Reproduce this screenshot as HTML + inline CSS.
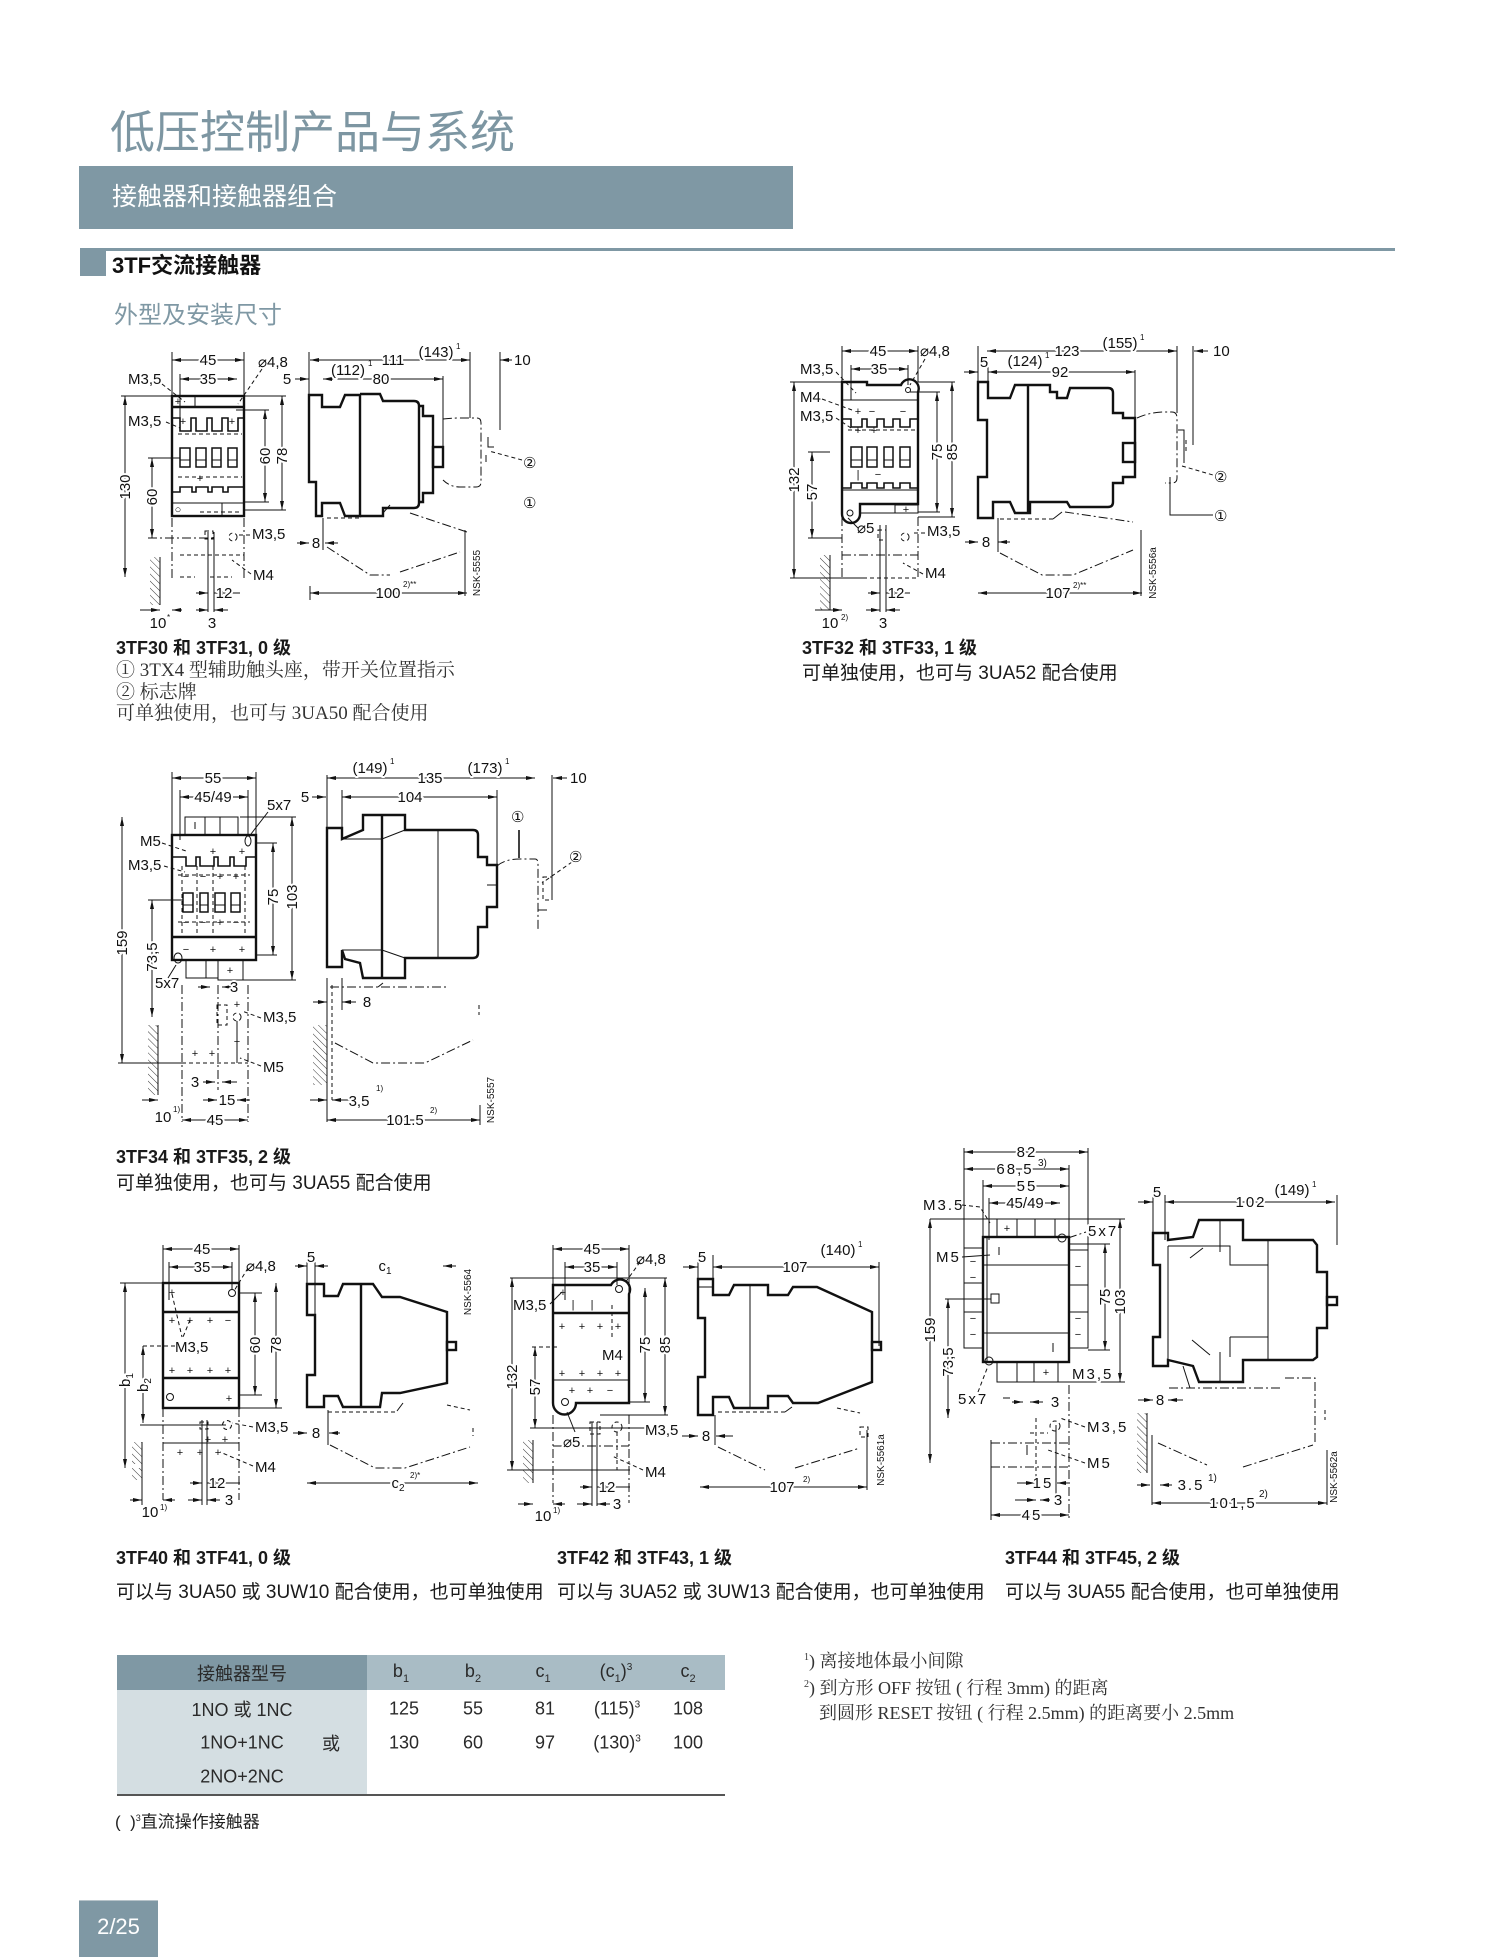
<!DOCTYPE html>
<html><head><meta charset="utf-8">
<style>
html,body{margin:0;padding:0;background:#fff;}
#pg{position:relative;width:1500px;height:1957px;overflow:hidden;background:#fff;font-family:"Liberation Sans","Noto Sans CJK SC",sans-serif;}
.a{position:absolute;white-space:nowrap;}
svg{position:absolute;left:0;top:0;}
.k{stroke:#111;fill:none;stroke-width:2.4;}
.t{stroke:#111;fill:none;stroke-width:1;}
.dd{stroke:#111;fill:none;stroke-width:1;stroke-dasharray:9 3 2 3;}
.ds{stroke:#111;fill:none;stroke-width:1;stroke-dasharray:4 3;}
.dm{stroke:#111;stroke-width:1;marker-start:url(#ar);marker-end:url(#ar);}
.de{stroke:#111;stroke-width:1;marker-end:url(#ar);}
.l{font-family:"Liberation Sans",sans-serif;font-size:15px;fill:#111;text-anchor:middle;paint-order:stroke;stroke:#fff;stroke-width:4px;stroke-linejoin:round;}
.ls{font-family:"Liberation Sans",sans-serif;font-size:15px;fill:#111;text-anchor:start;paint-order:stroke;stroke:#fff;stroke-width:4px;stroke-linejoin:round;}
.sp{font-family:"Liberation Sans",sans-serif;font-size:8px;fill:#111;}
.p{font-family:"Liberation Sans",sans-serif;font-size:11px;fill:#111;text-anchor:middle;}
.nsk{font-family:"Liberation Sans",sans-serif;font-size:10px;fill:#111;text-anchor:middle;}
.cb{font-family:"Liberation Sans","Noto Sans CJK SC",sans-serif;font-size:18px;font-weight:bold;fill:#1a1a1a;}
.cn{font-family:"Liberation Sans","Noto Sans CJK SC",sans-serif;font-size:19px;fill:#1a1a1a;}
.cl{font-family:"Liberation Serif","Noto Serif CJK SC",serif;font-size:19px;fill:#333;}
.w{letter-spacing:2px;}
.tb{position:absolute;font-family:"Liberation Sans","Noto Sans CJK SC",sans-serif;font-size:18px;color:#2a2a2a;white-space:nowrap;transform:translate(-50%,-50%);}
.fn{position:absolute;font-family:"Liberation Serif","Noto Serif CJK SC",serif;font-size:18px;color:#333;white-space:nowrap;}
</style></head><body>
<div id="pg">
<!-- header -->
<div class="a" style="left:110px;top:110px;font-size:45px;line-height:46px;color:#7d96a2;font-family:'Liberation Sans','Noto Sans CJK SC',sans-serif;">低压控制产品与系统</div>
<div class="a" style="left:79px;top:166px;width:714px;height:63px;background:#7f98a4;"></div>
<div class="a" style="left:112px;top:184px;font-size:25px;line-height:27px;color:#fff;font-family:'Liberation Sans','Noto Sans CJK SC',sans-serif;">接触器和接触器组合</div>
<div class="a" style="left:80px;top:248px;width:1315px;height:3px;background:#7f98a4;"></div>
<div class="a" style="left:80px;top:248px;width:26px;height:28px;background:#7f98a4;"></div>
<div class="a" style="left:112px;top:254px;font-size:22px;line-height:24px;font-weight:bold;color:#111;font-family:'Liberation Sans','Noto Sans CJK SC',sans-serif;">3TF交流接触器</div>
<div class="a" style="left:114px;top:303px;font-size:24px;line-height:26px;color:#7f98a4;font-family:'Liberation Sans','Noto Sans CJK SC',sans-serif;">外型及安装尺寸</div>

<!-- table -->
<div class="a" style="left:117px;top:1655px;width:250px;height:35px;background:#7f98a4;"></div>
<div class="a" style="left:367px;top:1655px;width:358px;height:35px;background:#a9bcc5;"></div>
<div class="a" style="left:117px;top:1690px;width:250px;height:104px;background:#d4dee2;"></div>
<div class="a" style="left:117px;top:1794px;width:608px;height:2px;background:#555;"></div>
<div class="tb" style="left:242px;top:1673px;">接触器型号</div>
<div class="tb" style="left:401px;top:1673px;">b<sub style="font-size:11px">1</sub></div>
<div class="tb" style="left:473px;top:1673px;">b<sub style="font-size:11px">2</sub></div>
<div class="tb" style="left:543px;top:1673px;">c<sub style="font-size:11px">1</sub></div>
<div class="tb" style="left:616px;top:1673px;">(c<sub style="font-size:11px">1</sub>)<sup style="font-size:10px">3</sup></div>
<div class="tb" style="left:688px;top:1673px;">c<sub style="font-size:11px">2</sub></div>
<div class="tb" style="left:242px;top:1709px;">1NO 或 1NC</div>
<div class="tb" style="left:404px;top:1709px;">125</div>
<div class="tb" style="left:473px;top:1709px;">55</div>
<div class="tb" style="left:545px;top:1709px;">81</div>
<div class="tb" style="left:617px;top:1709px;">(115)<sup style="font-size:10px">3</sup></div>
<div class="tb" style="left:688px;top:1709px;">108</div>
<div class="tb" style="left:242px;top:1743px;">1NO+1NC</div>
<div class="tb" style="left:331px;top:1743px;">或</div>
<div class="tb" style="left:404px;top:1743px;">130</div>
<div class="tb" style="left:473px;top:1743px;">60</div>
<div class="tb" style="left:545px;top:1743px;">97</div>
<div class="tb" style="left:617px;top:1743px;">(130)<sup style="font-size:10px">3</sup></div>
<div class="tb" style="left:688px;top:1743px;">100</div>
<div class="tb" style="left:242px;top:1777px;">2NO+2NC</div>
<div class="a" style="left:115px;top:1807px;font-size:17px;line-height:22px;color:#222;font-family:'Liberation Sans','Noto Sans CJK SC',sans-serif;">(&nbsp;&nbsp;)<sup style="font-size:9px">3</sup>直流操作接触器</div>
<div class="fn" style="left:804px;top:1647px;"><sup style="font-size:10px">1</sup>) 离接地体最小间隙</div>
<div class="fn" style="left:804px;top:1674px;"><sup style="font-size:10px">2</sup>) 到方形 OFF 按钮 ( 行程 3mm) 的距离</div>
<div class="fn" style="left:819px;top:1699px;">到圆形 RESET 按钮 ( 行程 2.5mm) 的距离要小 2.5mm</div>

<!-- page number -->
<div class="a" style="left:79px;top:1900px;width:79px;height:57px;background:#7f98a4;border-top:1px solid #b8c4ca;"></div>
<div class="a" style="left:79px;top:1914px;width:79px;text-align:center;font-size:22px;line-height:26px;color:#fff;">2/25</div>

<svg width="1500" height="1957" viewBox="0 0 1500 1957" xmlns="http://www.w3.org/2000/svg">
<defs>
<marker id="ar" viewBox="0 0 9 4" refX="9" refY="2" markerWidth="9" markerHeight="4" markerUnits="userSpaceOnUse" orient="auto-start-reverse"><path d="M0,0L9,2L0,4z" fill="#111"/></marker>
<pattern id="h" width="5" height="5" patternUnits="userSpaceOnUse" patternTransform="rotate(-45)"><line x1="0" y1="0" x2="0" y2="5" stroke="#222" stroke-width="0.9"/></pattern>
</defs>

<!-- ================= D1 3TF30 ================= -->
<g>
<rect class="k" x="172" y="396" width="72" height="120"/>
<path class="k" d="M172,407H244"/>
<path class="t" d="M195,396V407"/>
<path class="k" style="stroke-width:1.6" d="M172,418H180V431H191V418H196V431H207V418H212V431H222V418H228V431H238V418H244"/>
<path class="ds" d="M178,434H242M178,477H242M200,512H242"/>
<g class="k" style="stroke-width:1.5"><rect x="180" y="448" width="10" height="19"/><rect x="196" y="448" width="10" height="19"/><rect x="212" y="448" width="9" height="19"/><rect x="228" y="448" width="9" height="19"/></g>
<path class="t" d="M180,460h10M196,460h10M212,460h9M228,460h9"/>
<path class="k" style="stroke-width:1.6" d="M172,492H180V487H192V492H196V487H208V492H212V487H223V492H228V487H244"/>
<path class="t" d="M172,503H244M222,503V516"/>
<text class="p" x="178" y="405">+</text><text class="p" x="183" y="425">+</text><text class="p" x="232" y="425">+</text><text class="p" x="200" y="482">+</text><text class="p" x="178" y="513">○</text>
<path class="t" d="M172,352V396M244,352V396M180,374V418"/>
<line class="dm" x1="172" y1="360" x2="244" y2="360"/><text class="l" x="208" y="365">45</text>
<line class="dm" x1="180" y1="379" x2="237" y2="379"/><text class="l" x="208" y="384">35</text>
<text class="ls" x="128" y="384">M3,5</text><path class="ds" d="M162,384L185,402"/>
<text class="ls" x="258" y="367">⌀4,8</text><path class="ds" d="M262,369L238,404"/>
<text class="ls" x="128" y="426">M3,5</text><path class="ds" d="M166,422L180,428"/>
<path class="t" d="M121,396H172"/>
<line class="dm" x1="125" y1="396" x2="125" y2="577"/><text class="l" transform="translate(125 487) rotate(-90)" y="5">130</text>
<path class="t" d="M148,458H180"/><path class="dd" d="M148,538H215"/>
<line class="dm" x1="152" y1="458" x2="152" y2="538"/><text class="l" transform="translate(152 497) rotate(-90)" y="5">60</text>
<path class="t" d="M244,396H286M236,410H269M244,502H269M244,510H286"/>
<line class="dm" x1="265" y1="410" x2="265" y2="502"/><text class="l" transform="translate(265 456) rotate(-90)" y="5">60</text>
<line class="dm" x1="282" y1="396" x2="282" y2="510"/><text class="l" transform="translate(282 456) rotate(-90)" y="5">78</text>
<path class="dd" d="M172,518V578M244,518V578"/>
<path class="ds" d="M180,555H244M180,577H195M210,577H232"/>
<path class="t" d="M208,532V612M214,532V612"/>
<rect class="ds" x="205" y="531" width="8" height="8"/><circle class="ds" cx="233" cy="537" r="4"/>
<text class="ls" x="252" y="539">M3,5</text><path class="ds" d="M250,535H239"/>
<text class="ls" x="253" y="580">M4</text><path class="ds" d="M251,574L232,560"/>
<rect x="150" y="557" width="10" height="48" fill="url(#h)"/><path class="t" d="M160,557V605"/>
<line class="de" x1="196" y1="593" x2="208" y2="593"/><line class="de" x1="240" y1="593" x2="214" y2="593"/><text class="l" x="224" y="598">12</text>
<line class="de" x1="140" y1="610" x2="160" y2="610"/><line class="de" x1="182" y1="610" x2="172" y2="610"/>
<text class="l" x="158" y="628">10</text><text class="sp" x="167" y="620">*</text>
<line class="de" x1="196" y1="610" x2="208" y2="610"/><line class="de" x1="228" y1="610" x2="214" y2="610"/>
<text class="l" x="212" y="628">3</text>
<!-- side -->
<path class="k" d="M309,395H322V407H340L345,395H360V516H345L340,503H322V516H316V482H309Z"/>
<path class="k" d="M360,394H380L383,401H414Q419,401 419,406V503Q419,508 414,508H383V516H360"/>
<path class="k" d="M419,406H423V416H433V493H423V502H419"/>
<rect class="k" x="433" y="447" width="10" height="20"/>
<path class="t" d="M443,376V447M309,352V395"/>
<path class="dd" d="M443,419Q450,418 460,418H477Q481,418 481,423V482Q481,487 476,487H460Q450,487 443,480"/>
<path class="t" d="M488,437V447H494M486,455V462"/>
<path class="ds" d="M522,460L489,451"/>
<text class="ls" x="523" y="468" style="font-size:15px">②</text>
<text class="ls" x="523" y="508" style="font-size:15px">①</text>
<line class="de" x1="295" y1="379" x2="309" y2="379"/><text class="l" x="287" y="384">5</text>
<line class="dm" x1="323" y1="379" x2="443" y2="379"/>
<text class="l" x="348" y="375">(112)</text><text class="sp" x="368" y="366">1</text><text class="l" x="381" y="384">80</text>
<line class="dm" x1="310" y1="360" x2="470" y2="360"/>
<text class="l" x="393" y="365">111</text><text class="l" x="436" y="357">(143)</text><text class="sp" x="456" y="349">1</text>
<line class="de" x1="512" y1="360" x2="500" y2="360"/><text class="ls" x="514" y="365">10</text>
<path class="t" d="M470,352V418M500,352V430"/>
<path class="t" d="M323,518V550"/>
<line class="de" x1="297" y1="543" x2="309" y2="543"/><line class="de" x1="338" y1="543" x2="325" y2="543"/><text class="l" x="316" y="548">8</text>
<path class="ds" d="M327,518H360"/><path class="t" d="M383,513L390,505"/>
<path class="dd" d="M410,513L467,532M327,547L370,575H390M400,572L460,552"/>
<path class="t" d="M465,530V596M310,586V600"/>
<line class="dm" x1="310" y1="593" x2="467" y2="593"/><text class="l" x="388" y="598">100</text><text class="sp" x="403" y="587">2)**</text>
<text class="nsk" transform="translate(476 573) rotate(-90)" y="4">NSK-5555</text>
<text class="cb" x="116" y="654">3TF30 和 3TF31, 0 级</text>
<text class="cl" x="116" y="676">① 3TX4 型辅助触头座，带开关位置指示</text>
<text class="cl" x="116" y="698">② 标志牌</text>
<text class="cl" x="116" y="719">可单独使用，也可与 3UA50 配合使用</text>
</g>

<!-- ================= D2 3TF32 ================= -->
<g>
<path class="k" d="M842,382H867V385H901A9,9 0 0 1 918,392V504H860V514A9,9 0 0 1 842,514Z"/>
<circle class="t" cx="908" cy="390" r="2.5"/><circle class="t" cx="850" cy="513" r="3"/>
<rect class="t" x="895" y="505" width="23" height="8"/><path class="t" d="M860,513H895"/>
<text class="p" x="906" y="513">+</text>
<path class="t" d="M842,400H918M842,490H918"/>
<path class="k" style="stroke-width:1.6" d="M842,419H851V427H862V419H867V427H877V419H884V427H893V419H900V427H910V419H918"/>
<path class="ds" d="M848,430H915"/>
<g class="k" style="stroke-width:1.5"><rect x="851" y="447" width="11" height="20"/><rect x="867" y="447" width="10" height="20"/><rect x="884" y="447" width="9" height="20"/><rect x="900" y="447" width="10" height="20"/></g>
<path class="t" d="M851,460h11M867,460h10M884,460h9M900,460h10"/>
<path class="k" style="stroke-width:1.6" d="M842,488H851V483H862V488H867V483H877V488H884V483H893V488H900V483H910V488H918"/>
<text class="p" x="858" y="415">+</text><text class="p" x="872" y="415">−</text><text class="p" x="903" y="415">−</text><text class="p" x="858" y="434">+</text><text class="p" x="874" y="434">+</text><text class="p" x="858" y="478">|</text><text class="p" x="878" y="478">−</text>
<path class="t" d="M842,346V382M918,346V382M851,365V400M908,365V385"/>
<line class="dm" x1="842" y1="351" x2="918" y2="351"/><text class="l" x="878" y="356">45</text>
<text class="ls" x="920" y="356">⌀4,8</text><path class="ds" d="M925,359L910,385"/>
<line class="dm" x1="851" y1="369" x2="908" y2="369"/><text class="l" x="879" y="374">35</text>
<text class="ls" x="800" y="374">M3,5</text><path class="ds" d="M836,372L856,393"/>
<text class="ls" x="800" y="402">M4</text><path class="ds" d="M822,399L852,410"/>
<text class="ls" x="800" y="421">M3,5</text><path class="ds" d="M836,418L851,428"/>
<path class="t" d="M790,382H842M790,578H863"/>
<line class="dm" x1="794" y1="382" x2="794" y2="578"/><text class="l" transform="translate(794 480) rotate(-90)" y="5">132</text>
<path class="t" d="M808,538H842M808,452H830"/>
<line class="dm" x1="812" y1="452" x2="812" y2="538"/><text class="l" transform="translate(812 492) rotate(-90)" y="5">57</text>
<path class="t" d="M918,382H955M918,512H940M918,517H955M910,392H940"/>
<line class="dm" x1="937" y1="392" x2="937" y2="512"/><text class="l" transform="translate(937 452) rotate(-90)" y="5">75</text>
<line class="dm" x1="952" y1="382" x2="952" y2="517"/><text class="l" transform="translate(952 452) rotate(-90)" y="5">85</text>
<path class="dd" d="M842,517V578M918,517V578M842,555H918"/><path class="ds" d="M842,578H918"/>
<path class="t" d="M880,525V612M886,525V612"/>
<rect class="ds" x="878" y="530" width="8" height="10"/><circle class="ds" cx="905" cy="537" r="4"/>
<text class="ls" x="857" y="533">⌀5</text><path class="t" d="M858,528L848,518"/>
<text class="ls" x="927" y="536">M3,5</text><path class="ds" d="M925,533H911"/>
<text class="ls" x="925" y="578">M4</text><path class="ds" d="M923,574L903,563"/>
<rect x="820" y="555" width="10" height="55" fill="url(#h)"/><path class="t" d="M830,555V610"/>
<line class="de" x1="868" y1="593" x2="880" y2="593"/><line class="de" x1="910" y1="593" x2="886" y2="593"/><text class="l" x="896" y="598">12</text>
<line class="de" x1="815" y1="610" x2="842" y2="610"/><text class="l" x="830" y="628">10</text><text class="sp" x="841" y="620">2)</text>
<line class="de" x1="866" y1="610" x2="880" y2="610"/><line class="de" x1="900" y1="610" x2="886" y2="610"/><text class="l" x="883" y="628">3</text>
<!-- side -->
<path class="k" d="M978,382H988V398H1010L1015,385H1050V392H1057V398H1067L1070,388H1108Q1113,388 1113,393V413H1123V418H1135V477H1123V483H1113V502Q1113,507 1108,507H1070L1067,502H1030V513H1015L1010,502H993V518H978V477H987V420H978Z"/>
<path class="k" d="M1028,385V513"/>
<rect class="k" x="1123" y="443" width="12" height="19"/>
<path class="t" d="M1135,370V443M988,365V398M978,346V382M1177,346V413M1193,346V445"/>
<path class="dd" d="M1137,418Q1150,412 1165,412H1172Q1177,412 1177,418V478Q1177,483 1172,483H1165"/>
<path class="t" d="M1170,477V515H1213M1178,430H1184V463"/><path class="ds" d="M1186,440V452M1182,466L1213,475"/>
<text class="ls" x="1214" y="482" style="font-size:15px">②</text>
<text class="ls" x="1214" y="521" style="font-size:15px">①</text>
<line class="dm" x1="987" y1="351" x2="1177" y2="351"/><text class="l" x="1067" y="356">123</text>
<text class="l" x="1120" y="348">(155)</text><text class="sp" x="1140" y="340">1</text>
<line class="de" x1="1208" y1="351" x2="1194" y2="351"/><text class="ls" x="1213" y="356">10</text>
<line class="de" x1="964" y1="372" x2="978" y2="372"/><text class="l" x="984" y="367">5</text>
<line class="dm" x1="988" y1="372" x2="1135" y2="372"/>
<text class="l" x="1025" y="366">(124)</text><text class="sp" x="1045" y="358">1</text><text class="l" x="1060" y="377">92</text>
<path class="t" d="M998,518V552"/>
<line class="de" x1="965" y1="542" x2="978" y2="542"/><line class="de" x1="1010" y1="542" x2="998" y2="542"/><text class="l" x="986" y="547">8</text>
<path class="ds" d="M1000,519H1053"/><path class="t" d="M1053,519L1062,512"/>
<path class="dd" d="M1065,512L1133,522M1000,553L1042,575H1073L1133,550"/>
<path class="t" d="M1141,530V596"/>
<line class="dm" x1="978" y1="593" x2="1142" y2="593"/><text class="l" x="1058" y="598">107</text><text class="sp" x="1073" y="588">2)**</text>
<text class="nsk" transform="translate(1152 573) rotate(-90)" y="4">NSK-5556a</text>
<text class="cb" x="802" y="654">3TF32 和 3TF33, 1 级</text>
<text class="cn" x="802" y="679">可单独使用，也可与 3UA52 配合使用</text>
</g>

<!-- ================= D3 3TF34 ================= -->
<g>
<rect class="t" x="185" y="817" width="53" height="18"/><path class="t" d="M205,817V835M220,817V835M195,822V829"/>
<rect class="k" x="172" y="835" width="84" height="125"/>
<path class="k" d="M172,937H256"/>
<ellipse class="t" cx="248" cy="841" rx="3" ry="5" fill="#fff"/><ellipse class="t" cx="178" cy="958" rx="4" ry="5" fill="#fff"/>
<path class="k" style="stroke-width:1.6" d="M172,857H186V866H196V857H200V866H214V857H218V866H230V857H234V866H246V857H256"/>
<path class="ds" d="M178,875H250M178,922H250M182,866V935M197,866V935M213,866V935M245,866V935"/>
<g class="k" style="stroke-width:1.5"><rect x="183" y="893" width="10" height="19"/><rect x="200" y="893" width="8" height="19"/><rect x="215" y="893" width="10" height="19"/><rect x="231" y="893" width="9" height="19"/></g>
<path class="t" d="M183,905h10M200,905h8M215,905h10M231,905h9"/>
<text class="p" x="213" y="855">+</text><text class="p" x="242" y="855">+</text><text class="p" x="220" y="880">+</text><text class="p" x="236" y="880">+</text><text class="p" x="186" y="880">−</text><text class="p" x="203" y="880">−</text>
<text class="p" x="186" y="926">−</text><text class="p" x="203" y="926">−</text><text class="p" x="220" y="926">+</text><text class="p" x="236" y="926">−</text>
<text class="p" x="186" y="953">−</text><text class="p" x="213" y="953">+</text><text class="p" x="242" y="953">+</text>
<rect class="t" x="186" y="960" width="32" height="18"/><path class="t" d="M206,960V978"/>
<rect class="t" x="218" y="960" width="25" height="20"/><text class="p" x="230" y="974">+</text>
<path class="t" d="M172,772V835M256,772V835M180,790V840M248,790V835"/>
<line class="dm" x1="172" y1="778" x2="256" y2="778"/><text class="l" x="213" y="783">55</text>
<line class="dm" x1="180" y1="797" x2="248" y2="797"/><text class="l" x="213" y="802">45/49</text>
<text class="ls" x="267" y="810">5x7</text><path class="t" d="M268,812L251,834"/>
<text class="ls" x="140" y="846">M5</text><path class="ds" d="M162,843L186,851"/>
<text class="ls" x="128" y="870">M3,5</text><path class="ds" d="M164,866L185,872"/>
<line class="dm" x1="122" y1="817" x2="122" y2="1063"/><text class="l" transform="translate(122 943) rotate(-90)" y="5">159</text>
<path class="t" d="M148,900H183"/>
<line class="dm" x1="152" y1="900" x2="152" y2="1017"/><text class="l" transform="translate(152 957) rotate(-90)" y="5">73,5</text>
<path class="t" d="M256,843H277M256,955H277M240,817H296M243,980H296"/>
<line class="dm" x1="273" y1="843" x2="273" y2="955"/><text class="l" transform="translate(273 897) rotate(-90)" y="5">75</text>
<line class="dm" x1="292" y1="817" x2="292" y2="980"/><text class="l" transform="translate(292 897) rotate(-90)" y="5">103</text>
<text class="ls" x="155" y="988">5x7</text><path class="t" d="M168,978L176,965"/>
<line class="de" x1="198" y1="987" x2="210" y2="987"/><line class="de" x1="232" y1="987" x2="222" y2="987"/><text class="l" x="234" y="992">3</text>
<path class="dd" d="M182,985V1122M218,985V1090M248,985V1122"/>
<rect class="ds" x="217" y="1005" width="10" height="20"/><circle class="ds" cx="237" cy="1017" r="4"/>
<path class="t" d="M237,1021V1063M118,1063H182"/><path class="ds" d="M182,1063H248"/>
<text class="p" x="195" y="1057">+</text><text class="p" x="212" y="1057">+</text><text class="p" x="237" y="1008">+</text><text class="p" x="237" y="1045">+</text>
<text class="ls" x="263" y="1022">M3,5</text><path class="ds" d="M261,1018L242,1011"/>
<text class="ls" x="263" y="1072">M5</text><path class="ds" d="M261,1066L240,1058"/>
<rect x="148" y="1025" width="10" height="70" fill="url(#h)"/><path class="t" d="M158,1025V1095"/>
<line class="de" x1="203" y1="1082" x2="215" y2="1082"/><line class="de" x1="237" y1="1082" x2="222" y2="1082"/><text class="l" x="195" y="1087">3</text>
<line class="de" x1="203" y1="1100" x2="217" y2="1100"/><line class="de" x1="250" y1="1100" x2="237" y2="1100"/><text class="l" x="227" y="1105">15</text>
<line class="de" x1="142" y1="1100" x2="158" y2="1100"/><text class="l" x="163" y="1122">10</text><text class="sp" x="173" y="1112">1)</text>
<line class="dm" x1="182" y1="1120" x2="248" y2="1120"/><text class="l" x="215" y="1125">45</text>
<!-- side -->
<path class="k" d="M327,828H342V839L363,830V815H405V830H473Q478,830 478,835V857H487V865H497V907H487V927H478V953Q478,958 473,958H405V978H363L360,963L345,959L342,950V967H327Z"/>
<path class="t" d="M487,885H497"/>
<path class="k" d="M382,815V978"/>
<path class="t" d="M438,830V958M342,839H382L405,830M342,950H382L405,958"/>
<path class="t" d="M327,775V828M342,790V839M497,790V866M552,775V900"/>
<line class="dm" x1="327" y1="778" x2="535" y2="778"/>
<text class="l" x="370" y="773">(149)</text><text class="sp" x="390" y="764">1</text>
<text class="l" x="430" y="783">135</text>
<text class="l" x="485" y="773">(173)</text><text class="sp" x="505" y="764">1</text>
<line class="de" x1="567" y1="778" x2="553" y2="778"/><text class="ls" x="570" y="783">10</text>
<line class="de" x1="312" y1="797" x2="326" y2="797"/><text class="l" x="305" y="802">5</text>
<line class="dm" x1="342" y1="797" x2="497" y2="797"/><text class="l" x="410" y="802">104</text>
<text class="ls" x="511" y="822" style="font-size:15px">①</text>
<path class="k" style="stroke-width:1.6" d="M519,830V858"/>
<path class="dd" d="M497,866Q505,859 520,859H535Q538,859 538,864V930"/>
<rect class="ds" x="543" y="877" width="9" height="23"/><path class="t" d="M538,910H547"/>
<path class="ds" d="M572,862L542,883"/>
<text class="ls" x="569" y="862" style="font-size:15px">②</text>
<path class="t" d="M342,978V1010"/>
<line class="de" x1="313" y1="1002" x2="327" y2="1002"/><line class="de" x1="356" y1="1002" x2="342" y2="1002"/><text class="l" x="367" y="1007">8</text>
<path class="dd" d="M330,987H447"/><path class="t" d="M378,987L383,983"/>
<path class="ds" d="M479,1005V1015M332,985V1100"/>
<path class="dd" d="M335,1043L373,1063H425L473,1040"/>
<path class="t" d="M327,978V1122M480,1105V1125"/>
<rect x="313" y="1025" width="14" height="60" fill="url(#h)"/>
<line class="de" x1="310" y1="1100" x2="327" y2="1100"/><line class="de" x1="350" y1="1100" x2="332" y2="1100"/>
<text class="l" x="359" y="1106">3,5</text><text class="sp" x="376" y="1091">1)</text>
<line class="dm" x1="327" y1="1120" x2="480" y2="1120"/><text class="l" x="405" y="1125">101.5</text><text class="sp" x="430" y="1113">2)</text>
<text class="nsk" transform="translate(490 1100) rotate(-90)" y="4">NSK-5557</text>
<text class="cb" x="116" y="1163">3TF34 和 3TF35, 2 级</text>
<text class="cn" x="116" y="1189">可单独使用，也可与 3UA55 配合使用</text>
</g>

<!-- ================= D4 3TF40 ================= -->
<g>
<rect class="k" x="163" y="1283" width="76" height="125"/>
<path class="k" d="M163,1312H239M163,1378H239"/>
<circle class="t" cx="232" cy="1293" r="3.5"/><circle class="t" cx="170" cy="1397" r="3.5"/>
<text class="p" x="172" y="1296">+</text>
<text class="p" x="172" y="1324">+</text><text class="p" x="190" y="1324">+</text><text class="p" x="210" y="1324">+</text><text class="p" x="228" y="1324">−</text>
<text class="p" x="172" y="1374">+</text><text class="p" x="190" y="1374">+</text><text class="p" x="210" y="1374">+</text><text class="p" x="228" y="1374">+</text>
<text class="p" x="229" y="1402">+</text>
<path class="ds" d="M172,1294L182,1337M190,1320L183,1337"/>
<text class="ls" x="175" y="1352">M3,5</text>
<path class="t" d="M163,1245V1283M239,1245V1283M169,1262V1300M232,1262V1290"/>
<line class="dm" x1="163" y1="1249" x2="239" y2="1249"/><text class="l" x="202" y="1254">45</text>
<line class="dm" x1="169" y1="1267" x2="232" y2="1267"/><text class="l" x="202" y="1272">35</text>
<text class="ls" x="246" y="1271">⌀4,8</text><path class="ds" d="M248,1268L234,1291"/>
<path class="t" d="M239,1293H262M239,1395H262M239,1408H282"/>
<line class="dm" x1="255" y1="1293" x2="255" y2="1395"/><text class="l" transform="translate(255 1345) rotate(-90)" y="5">60</text>
<line class="dm" x1="276" y1="1283" x2="276" y2="1408"/><text class="l" transform="translate(276 1345) rotate(-90)" y="5">78</text>
<path class="t" d="M120,1283H163"/>
<line class="dm" x1="125" y1="1283" x2="125" y2="1468"/><text class="l" transform="translate(125 1380) rotate(-90)" y="5">b<tspan font-size="10" dy="3">1</tspan></text>
<path class="ds" d="M143,1346H176"/>
<line class="dm" x1="143" y1="1346" x2="143" y2="1423"/><text class="l" transform="translate(143 1385) rotate(-90)" y="5">b<tspan font-size="10" dy="3">2</tspan></text>
<path class="t" d="M140,1425H226M163,1443H239M202,1420V1505M207,1420V1505"/>
<path class="dd" d="M163,1408V1500M239,1408V1500"/>
<rect class="ds" x="200" y="1422" width="8" height="7"/><circle class="ds" cx="227" cy="1425" r="4.5"/>
<text class="p" x="180" y="1456">+</text><text class="p" x="200" y="1456">+</text><text class="p" x="218" y="1456">+</text><text class="p" x="208" y="1443">+</text><text class="p" x="225" y="1443">+</text>
<text class="ls" x="255" y="1432">M3,5</text><path class="ds" d="M253,1427L232,1423"/>
<text class="ls" x="255" y="1472">M4</text><path class="ds" d="M253,1466L220,1452"/>
<rect x="132" y="1442" width="10" height="22" fill="url(#h)"/><rect x="132" y="1468" width="10" height="12" fill="url(#h)"/>
<path class="t" d="M142,1442V1505"/>
<line class="de" x1="190" y1="1483" x2="202" y2="1483"/><line class="de" x1="240" y1="1483" x2="207" y2="1483"/><text class="l" x="217" y="1488">12</text>
<line class="de" x1="188" y1="1500" x2="202" y2="1500"/><line class="de" x1="220" y1="1500" x2="207" y2="1500"/><text class="l" x="229" y="1505">3</text>
<line class="de" x1="130" y1="1500" x2="142" y2="1500"/><line class="de" x1="175" y1="1500" x2="163" y2="1500"/>
<text class="l" x="150" y="1517">10</text><text class="sp" x="160" y="1510">1)</text>
<!-- side -->
<path class="k" d="M307,1284H324V1296H338L343,1284H373L382,1297H400L447,1312V1383L400,1393H382L380,1407H343L338,1396H324V1407H307V1375H315V1315H307Z"/>
<path class="k" d="M361,1284V1407"/>
<rect class="k" x="447" y="1342" width="9" height="8"/>
<path class="t" d="M307,1258V1284M315,1258V1315"/>
<line class="de" x1="295" y1="1266" x2="307" y2="1266"/><line class="de" x1="328" y1="1266" x2="315" y2="1266"/>
<text class="l" x="311" y="1262">5</text>
<text class="l" x="385" y="1271">c<tspan font-size="10" dy="3">1</tspan></text>
<line class="de" x1="456" y1="1266" x2="443" y2="1266"/>
<text class="nsk" transform="translate(467 1292) rotate(-90)" y="4">NSK-5564</text>
<path class="t" d="M328,1410V1445"/>
<line class="de" x1="293" y1="1433" x2="307" y2="1433"/><line class="de" x1="340" y1="1433" x2="329" y2="1433"/><text class="l" x="316" y="1438">8</text>
<path class="ds" d="M328,1412H397M447,1405L470,1410M473,1428V1436"/><path class="t" d="M397,1411L403,1403"/>
<path class="dd" d="M330,1445L375,1468H405L470,1447"/>
<line class="dm" x1="307" y1="1483" x2="478" y2="1483"/>
<text class="l" x="398" y="1488">c<tspan font-size="10" dy="3">2</tspan></text><text class="sp" x="410" y="1478">2)*</text>
<text class="cb" x="116" y="1564">3TF40 和 3TF41, 0 级</text>
<text class="cn" x="116" y="1598">可以与 3UA50 或 3UW10 配合使用，也可单独使用</text>
</g>

<!-- ================= D5 3TF42 ================= -->
<g>
<path class="k" d="M553,1285H611A10,10 0 1 1 629,1294V1403H576A11.5,11.5 0 0 1 553,1403Z"/>
<path class="k" d="M553,1313H629"/><path class="t" d="M553,1380H629"/>
<circle class="t" cx="619" cy="1289" r="3.5"/><circle class="t" cx="565" cy="1402" r="3.5"/>
<text class="p" x="563" y="1296">+</text>
<text class="p" x="573" y="1308">|</text><text class="p" x="592" y="1308">|</text>
<text class="p" x="562" y="1330">+</text><text class="p" x="582" y="1330">+</text><text class="p" x="600" y="1330">+</text><text class="p" x="618" y="1330">+</text>
<text class="p" x="562" y="1377">+</text><text class="p" x="582" y="1377">+</text><text class="p" x="600" y="1377">+</text><text class="p" x="618" y="1377">+</text>
<text class="p" x="572" y="1394">+</text><text class="p" x="590" y="1394">+</text><text class="p" x="610" y="1394">−</text>
<path class="ds" d="M612,1305V1340"/>
<text class="ls" x="513" y="1310">M3,5</text><path class="t" d="M550,1304L562,1292"/>
<text class="ls" x="602" y="1360">M4</text>
<path class="t" d="M553,1245V1285M629,1245V1292M565,1262V1300M617,1262V1285"/>
<line class="dm" x1="553" y1="1249" x2="629" y2="1249"/><text class="l" x="592" y="1254">45</text>
<line class="dm" x1="565" y1="1267" x2="617" y2="1267"/><text class="l" x="592" y="1272">35</text>
<text class="ls" x="636" y="1264">⌀4,8</text><path class="ds" d="M640,1262L625,1283"/>
<path class="t" d="M510,1278H667M507,1470H630"/>
<line class="dm" x1="512" y1="1278" x2="512" y2="1470"/><text class="l" transform="translate(512 1377) rotate(-90)" y="5">132</text>
<path class="ds" d="M532,1347H560"/><path class="t" d="M530,1428H650"/>
<line class="dm" x1="535" y1="1347" x2="535" y2="1428"/><text class="l" transform="translate(535 1387) rotate(-90)" y="5">57</text>
<path class="t" d="M629,1402H650M600,1415H668"/>
<line class="dm" x1="645" y1="1288" x2="645" y2="1402"/><text class="l" transform="translate(645 1345) rotate(-90)" y="5">75</text>
<line class="dm" x1="665" y1="1278" x2="665" y2="1415"/><text class="l" transform="translate(665 1345) rotate(-90)" y="5">85</text>
<path class="dd" d="M553,1415V1503M629,1415V1503M553,1446H629"/><path class="ds" d="M553,1470H629"/>
<path class="t" d="M592,1422V1506M597,1422V1506"/>
<rect class="ds" x="590" y="1422" width="10" height="12"/><circle class="ds" cx="617" cy="1427" r="5"/><path class="ds" d="M617,1432V1470"/>
<text class="ls" x="563" y="1447">⌀5</text><path class="t" d="M575,1432L567,1412"/>
<text class="ls" x="645" y="1435">M3,5</text><path class="ds" d="M643,1428H624"/>
<text class="ls" x="645" y="1477">M4</text><path class="ds" d="M643,1470L612,1456"/>
<rect x="523" y="1440" width="10" height="43" fill="url(#h)"/><path class="t" d="M533,1440V1483"/>
<line class="de" x1="580" y1="1487" x2="592" y2="1487"/><line class="de" x1="630" y1="1487" x2="597" y2="1487"/><text class="l" x="607" y="1492">12</text>
<line class="de" x1="577" y1="1504" x2="592" y2="1504"/><line class="de" x1="610" y1="1504" x2="597" y2="1504"/><text class="l" x="617" y="1509">3</text>
<line class="de" x1="518" y1="1504" x2="533" y2="1504"/><line class="de" x1="565" y1="1504" x2="553" y2="1504"/>
<text class="l" x="543" y="1521">10</text><text class="sp" x="553" y="1513">1)</text>
<!-- side -->
<path class="k" d="M698,1279H713V1295H729L734,1285H768V1295H788L793,1287H817L872,1312V1382L818,1403H793L788,1396H768V1408H734L729,1397H713V1415H698V1377H705V1318H698Z"/>
<path class="t" d="M750,1285V1408M698,1287H713"/>
<rect class="k" x="872" y="1342" width="9" height="8"/>
<path class="t" d="M698,1255V1279M713,1255V1295M879,1262V1346"/>
<line class="de" x1="683" y1="1267" x2="698" y2="1267"/><text class="l" x="702" y="1262">5</text>
<line class="dm" x1="713" y1="1267" x2="879" y2="1267"/><text class="l" x="795" y="1272">107</text>
<text class="l" x="838" y="1255">(140)</text><text class="sp" x="858" y="1247">1</text>
<path class="t" d="M715,1415V1445"/>
<line class="de" x1="682" y1="1436" x2="698" y2="1436"/><line class="de" x1="733" y1="1436" x2="716" y2="1436"/><text class="l" x="706" y="1441">8</text>
<path class="ds" d="M718,1412H785M837,1408L860,1413"/><path class="t" d="M785,1412L792,1407"/>
<path class="dd" d="M718,1447L765,1470M795,1468L860,1448"/>
<rect class="ds" x="860" y="1427" width="8" height="10"/>
<line class="dm" x1="700" y1="1487" x2="867" y2="1487"/><text class="l" x="782" y="1492">107</text><text class="sp" x="803" y="1482">2)</text>
<path class="t" d="M867,1430V1490"/>
<text class="nsk" transform="translate(880 1460) rotate(-90)" y="4">NSK-5561a</text>
<text class="cb" x="557" y="1564">3TF42 和 3TF43, 1 级</text>
<text class="cn" x="557" y="1598">可以与 3UA52 或 3UW13 配合使用，也可单独使用</text>
</g>

<!-- ================= D6 3TF44 ================= -->
<g>
<rect class="t" x="964" y="1248" width="19" height="100"/><path class="t" d="M964,1283H983M964,1312H983"/>
<text class="p" x="973" y="1265">−</text><text class="p" x="973" y="1281">−</text><text class="p" x="973" y="1322">−</text><text class="p" x="973" y="1338">−</text>
<rect class="k" x="983" y="1237" width="86" height="125"/>
<path class="t" d="M983,1265H1069M983,1333H1069M987,1237V1362"/>
<rect class="t" x="991" y="1294" width="8" height="9"/>
<path class="t" d="M999,1247V1255M1053,1343V1352"/>
<rect class="t" x="1069" y="1250" width="19" height="98"/><path class="t" d="M1069,1285H1088M1069,1312H1088"/>
<text class="p" x="1078" y="1270">−</text><text class="p" x="1078" y="1322">−</text><text class="p" x="1078" y="1338">−</text>
<rect class="t" x="997" y="1219" width="58" height="18"/><path class="t" d="M1017,1219V1237M1035,1219V1237"/><text class="p" x="1007" y="1232">+</text>
<rect class="t" x="997" y="1362" width="61" height="20"/><path class="t" d="M1017,1362V1382M1034,1362V1382"/><text class="p" x="1046" y="1376">+</text>
<circle class="t" cx="1062" cy="1238" r="4" fill="#fff"/><circle class="t" cx="989" cy="1361" r="4" fill="#fff"/>
<path class="t" d="M964,1148V1248M983,1180V1237M989,1198V1240M1088,1148V1250M1069,1165V1237"/>
<line class="dm" x1="964" y1="1152" x2="1088" y2="1152"/><text class="l w" x="1027" y="1157">82</text>
<line class="dm" x1="964" y1="1169" x2="1069" y2="1169"/><text class="l w" x="1015" y="1174">68,5</text><text class="sp" x="1038" y="1166" style="font-size:10px">3)</text>
<line class="dm" x1="983" y1="1186" x2="1069" y2="1186"/><text class="l w" x="1027" y="1191">55</text>
<line class="dm" x1="989" y1="1203" x2="1060" y2="1203"/><text class="l" x="1025" y="1208">45/49</text>
<text class="ls w" x="923" y="1210">M3.5</text><path class="ds" d="M962,1205L980,1207L990,1223"/>
<path class="t" d="M930,1219H1055"/>
<text class="ls w" x="1088" y="1236">5x7</text><path class="dd" d="M1068,1238L1086,1232"/>
<text class="ls w" x="936" y="1262">M5</text><path class="t" d="M962,1257L990,1255"/>
<path class="t" d="M1069,1244H1110M1058,1382H1125M1055,1219H1125M1088,1350H1110"/>
<line class="dm" x1="1105" y1="1244" x2="1105" y2="1350"/><text class="l" transform="translate(1105 1297) rotate(-90)" y="5">75</text>
<line class="dm" x1="1120" y1="1219" x2="1120" y2="1382"/><text class="l" transform="translate(1120 1302) rotate(-90)" y="5">103</text>
<line class="dm" x1="930" y1="1219" x2="930" y2="1463"/><text class="l" transform="translate(930 1330) rotate(-90)" y="5">159</text>
<path class="t" d="M945,1299H991"/>
<line class="dm" x1="948" y1="1299" x2="948" y2="1418"/><text class="l" transform="translate(948 1362) rotate(-90)" y="5">73,5</text>
<text class="ls w" x="1072" y="1379">M3,5</text>
<text class="ls w" x="958" y="1404">5x7</text><path class="ds" d="M978,1392L988,1366"/>
<path class="t" d="M1003,1398H1010"/>
<line class="de" x1="1012" y1="1402" x2="1023" y2="1402"/><line class="de" x1="1043" y1="1402" x2="1030" y2="1402"/><text class="l" x="1055" y="1407">3</text>
<path class="dd" d="M1069,1385V1520M991,1443H1069M991,1467H1069"/>
<path class="ds" d="M1036,1418V1485M1030,1433H1036M1040,1433H1048"/>
<path class="t" d="M1056,1425V1500M1027,1445V1455M991,1440V1520"/>
<circle class="ds" cx="1055" cy="1426" r="5"/>
<text class="ls w" x="1087" y="1432">M3,5</text><path class="ds" d="M1085,1427L1060,1418"/>
<text class="ls w" x="1087" y="1468">M5</text><path class="ds" d="M1085,1463L1048,1450"/>
<line class="de" x1="1017" y1="1483" x2="1035" y2="1483"/><line class="de" x1="1068" y1="1483" x2="1057" y2="1483"/><text class="l w" x="1043" y="1488">15</text>
<line class="de" x1="1015" y1="1500" x2="1036" y2="1500"/><line class="de" x1="1050" y1="1500" x2="1040" y2="1500"/><text class="l" x="1058" y="1505">3</text>
<line class="dm" x1="991" y1="1515" x2="1069" y2="1515"/><text class="l w" x="1032" y="1520">45</text>
<!-- side -->
<path class="k" d="M1153,1233H1168V1240L1193,1237L1199,1220H1243V1240H1313L1317,1245V1272H1327V1328H1317V1357L1313,1360H1243V1382H1199L1193,1366L1168,1360V1366H1153V1337H1160V1265H1153Z"/>
<rect class="k" x="1327" y="1297" width="10" height="8"/>
<path class="t" d="M1268,1240V1360M1220,1220V1252M1220,1352V1382M1168,1246H1230V1265H1268M1230,1337H1268M1230,1337V1357M1168,1246V1360M1190,1258L1203,1248M1192,1340L1210,1355"/>
<path class="t" d="M1153,1195V1233M1165,1195V1240M1337,1195V1245"/>
<line class="de" x1="1138" y1="1202" x2="1153" y2="1202"/><text class="l" x="1157" y="1197">5</text>
<line class="dm" x1="1165" y1="1202" x2="1335" y2="1202"/><text class="l w" x="1251" y="1207">102</text>
<text class="l" x="1292" y="1195">(149)</text><text class="sp" x="1312" y="1187">1</text>
<line class="de" x1="1138" y1="1400" x2="1153" y2="1400"/><line class="de" x1="1183" y1="1400" x2="1168" y2="1400"/><text class="l" x="1160" y="1405">8</text>
<path class="dd" d="M1169,1388H1283M1285,1378H1315V1445M1243,1467L1313,1445M1158,1443L1207,1465"/>
<path class="t" d="M1190,1388L1183,1366"/>
<path class="ds" d="M1325,1410V1420"/>
<rect x="1137" y="1413" width="10" height="60" fill="url(#h)"/><path class="t" d="M1147,1413V1473M1152,1435V1505"/>
<line class="de" x1="1137" y1="1485" x2="1150" y2="1485"/><line class="de" x1="1172" y1="1485" x2="1160" y2="1485"/>
<text class="l w" x="1191" y="1490">3.5</text><text class="sp" x="1208" y="1481" style="font-size:10px">1)</text>
<line class="dm" x1="1152" y1="1503" x2="1327" y2="1503"/><text class="l w" x="1233" y="1508">101,5</text><text class="sp" x="1259" y="1497" style="font-size:10px">2)</text>
<path class="t" d="M1327,1450V1505"/>
<text class="nsk" transform="translate(1333 1477) rotate(-90)" y="4">NSK-5562a</text>
<text class="cb" x="1005" y="1564">3TF44 和 3TF45, 2 级</text>
<text class="cn" x="1005" y="1598">可以与 3UA55 配合使用，也可单独使用</text>
</g>
</svg>
</div>
</body></html>
